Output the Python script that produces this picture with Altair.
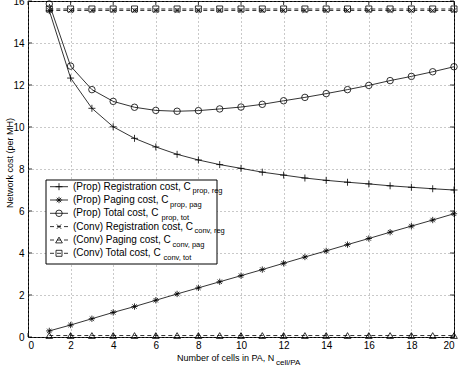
import altair as alt
import pandas as pd

# Number of cells per paging area
cells = list(range(1, 21))

# Proposed scheme costs (per MH)
prop_reg = [15.54, 12.33, 10.89, 10.01, 9.46, 9.05, 8.70, 8.43, 8.21, 8.03,
            7.85, 7.71, 7.57, 7.46, 7.37, 7.29, 7.20, 7.13, 7.06, 7.00]
prop_pag = [0.29, 0.57, 0.87, 1.17, 1.45, 1.75, 2.05, 2.34, 2.63, 2.92,
            3.21, 3.51, 3.81, 4.10, 4.40, 4.69, 4.99, 5.28, 5.57, 5.87]
prop_tot = [15.86, 12.90, 11.78, 11.22, 10.94, 10.79, 10.75, 10.78, 10.86, 10.95,
            11.08, 11.25, 11.41, 11.59, 11.78, 11.98, 12.21, 12.41, 12.63, 12.87]

# Conventional scheme costs (per MH)
conv_reg = [15.55, 15.55, 15.55, 15.55, 15.55, 15.55, 15.55, 15.55, 15.55, 15.55,
            15.55, 15.55, 15.55, 15.55, 15.55, 15.55, 15.55, 15.55, 15.55, 15.55]
conv_pag = [0.07, 0.07, 0.07, 0.07, 0.07, 0.07, 0.07, 0.07, 0.07, 0.07,
            0.07, 0.07, 0.07, 0.07, 0.07, 0.07, 0.07, 0.07, 0.07, 0.07]
conv_tot = [15.62, 15.62, 15.62, 15.62, 15.62, 15.62, 15.62, 15.62, 15.62, 15.62,
            15.62, 15.62, 15.62, 15.62, 15.62, 15.62, 15.62, 15.62, 15.62, 15.62]

x_ticks = [0, 2, 4, 6, 8, 10, 12, 14, 16, 18, 20]
y_ticks = [0, 2, 4, 6, 8, 10, 12, 14, 16]

series_names = ["prop_reg", "prop_pag", "prop_tot", "conv_reg", "conv_pag", "conv_tot"]
series_values = [prop_reg, prop_pag, prop_tot, conv_reg, conv_pag, conv_tot]
legend_main = [
    "(Prop) Registration cost, C",
    "(Prop) Paging cost, C",
    "(Prop) Total cost, C",
    "(Conv) Registration cost, C",
    "(Conv) Paging cost, C",
    "(Conv) Total cost, C",
]
legend_sub = ["prop, reg", "prop, pag", "prop, tot", "conv, reg", "conv, pag", "conv, tot"]

rows = []
for name, vals in zip(series_names, series_values):
    for c, v in zip(cells, vals):
        rows.append({"series": name, "cells": c, "cost": v})
df = pd.DataFrame(rows)

W, H = 426, 336
FONT = "Liberation Sans"

PLUS = "M-1,0L1,0M0,-1L0,1"
STAR = "M-1,0L1,0M0,-1L0,1M-0.7,-0.7L0.7,0.7M-0.7,0.7L0.7,-0.7"
CROSS = "M-0.7,-0.7L0.7,0.7M-0.7,0.7L0.7,-0.7"

# marker shape, marker size, dashed?, subscript x offset in the legend
style = {
    "prop_reg": (PLUS, 49, False, 164.5),
    "prop_pag": (STAR, 40, False, 142),
    "prop_tot": ("circle", 42, False, 133.5),
    "conv_reg": (CROSS, 40, True, 166.5),
    "conv_pag": ("triangle-up", 45, True, 144.5),
    "conv_tot": ("square", 36, True, 135.5),
}

x_scale = alt.Scale(domain=[0, 20], nice=False, zero=False)
y_scale = alt.Scale(domain=[0, 16], nice=False, zero=False)
x_axis = alt.Axis(values=x_ticks, title=None, format="d", labelPadding=3)
y_axis = alt.Axis(values=y_ticks, title=None, format="d", labelPadding=4)

X = alt.X("cells:Q", scale=x_scale, axis=x_axis)
Y = alt.Y("cost:Q", scale=y_scale, axis=y_axis)

base = alt.Chart(df).encode(x=X, y=Y)

layers = []
for name in series_names:
    shape, size, dashed, _ = style[name]
    sub = base.transform_filter(alt.datum.series == name)
    line_kw = dict(color="black", strokeWidth=0.8)
    if dashed:
        line_kw["strokeDash"] = [4, 3]
    layers.append(sub.mark_line(**line_kw))
    layers.append(sub.mark_point(shape=shape, size=size, filled=False,
                                 color="black", strokeWidth=0.8, opacity=1))

# inward tick marks on all four sides
xt = pd.DataFrame({"cells": x_ticks})
yt = pd.DataFrame({"cost": y_ticks})
tick_kw = dict(color="black", strokeWidth=0.8)
layers.append(alt.Chart(xt).mark_rule(**tick_kw).encode(x=X, y=alt.value(H), y2=alt.value(H - 4)))
layers.append(alt.Chart(xt).mark_rule(**tick_kw).encode(x=X, y=alt.value(0), y2=alt.value(4)))
layers.append(alt.Chart(yt).mark_rule(**tick_kw).encode(y=Y, x=alt.value(0), x2=alt.value(4)))
layers.append(alt.Chart(yt).mark_rule(**tick_kw).encode(y=Y, x=alt.value(W), x2=alt.value(W - 4)))

one = pd.DataFrame({"k": [0]})

# legend box
layers.append(alt.Chart(one).mark_rect(fill="white", stroke="black", strokeWidth=1).encode(
    x=alt.value(18), x2=alt.value(189), y=alt.value(179), y2=alt.value(263)))

row_y = [185.7, 199, 212.3, 225.6, 239, 252.3]
for i, name in enumerate(series_names):
    shape, size, dashed, sub_x = style[name]
    ry = row_y[i]
    rule_kw = dict(color="black", strokeWidth=0.8)
    if dashed:
        rule_kw["strokeDash"] = [4, 3]
    layers.append(alt.Chart(one).mark_rule(**rule_kw).encode(
        x=alt.value(22), x2=alt.value(40), y=alt.value(ry)))
    layers.append(alt.Chart(one).mark_point(shape=shape, size=size, filled=False,
                                            color="black", strokeWidth=0.8, opacity=1).encode(
        x=alt.value(31), y=alt.value(ry)))
    layers.append(alt.Chart(pd.DataFrame({"t": [legend_main[i]]})).mark_text(
        align="left", baseline="middle", font=FONT, fontSize=10, color="black").encode(
        x=alt.value(45), y=alt.value(ry), text="t:N"))
    layers.append(alt.Chart(pd.DataFrame({"t": [legend_sub[i]]})).mark_text(
        align="left", baseline="middle", font=FONT, fontSize=7.5, color="black").encode(
        x=alt.value(sub_x), y=alt.value(ry + 4.5), text="t:N"))

# axis titles
layers.append(alt.Chart(pd.DataFrame({"t": ["Network cost (per MH)"]})).mark_text(
    align="center", baseline="middle", angle=270, font=FONT, fontSize=9, color="black").encode(
    x=alt.value(-18), y=alt.value(162), text="t:N"))
layers.append(alt.Chart(pd.DataFrame({"t": ["Number of cells in PA, N"]})).mark_text(
    align="left", baseline="alphabetic", font=FONT, fontSize=9, color="black").encode(
    x=alt.value(149), y=alt.value(360), text="t:N"))
layers.append(alt.Chart(pd.DataFrame({"t": ["cell/PA"]})).mark_text(
    align="left", baseline="alphabetic", font=FONT, fontSize=8, color="black").encode(
    x=alt.value(248), y=alt.value(363.5), text="t:N"))

chart = alt.layer(*layers).properties(
    width=W, height=H,
    padding={"left": 28, "top": 1, "right": 6, "bottom": 31},
    autosize=alt.AutoSizeParams(type="none"),
    background="white",
).configure_view(
    stroke="black", strokeWidth=1,
).configure_axis(
    domain=False, ticks=False,
    grid=True, gridColor="#777", gridDash=[1, 3], gridWidth=0.8, gridOpacity=1,
    labelFont=FONT, labelFontSize=10, labelColor="black",
)

chart.save("out.html", embed_options={"renderer": "svg", "actions": False})
